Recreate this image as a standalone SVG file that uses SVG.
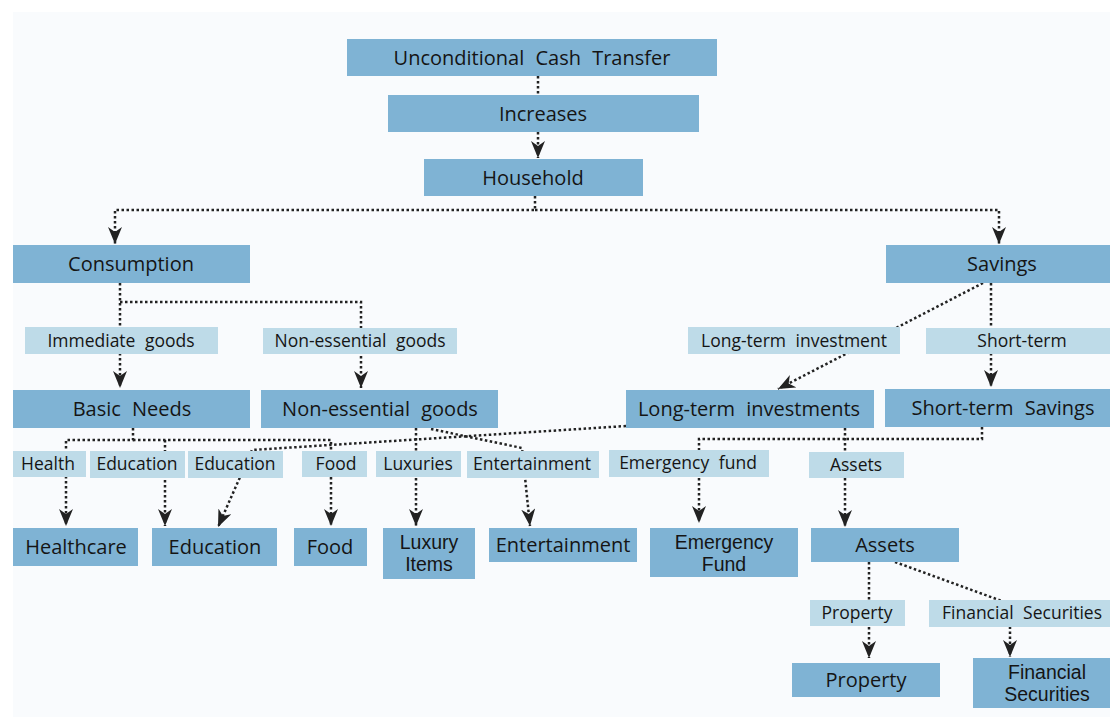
<svg xmlns="http://www.w3.org/2000/svg" width="1110" height="717" viewBox="0 0 1110 717">
<style>
.bg{fill:#f9fbfd}
.node rect{fill:#7fb3d4}
.lab rect{fill:#bedbe8}
.node text{font-family:"Open Sans","Noto Sans",sans-serif;font-size:20px;fill:#151515;text-anchor:middle;word-spacing:6px}
.node text.two{font-family:"Liberation Sans",Arial,sans-serif;font-size:19.5px}
.lab text{font-family:"Open Sans","Noto Sans",sans-serif;font-size:17.5px;fill:#151515;text-anchor:middle;word-spacing:5px}
.c path{fill:none;stroke:#222;stroke-width:2.5;stroke-dasharray:2.5 2.5}
.c path.a{marker-end:url(#ah)}
</style>
<defs>
<marker id="ah" markerUnits="userSpaceOnUse" markerWidth="18" markerHeight="15" refX="17" refY="7" orient="auto">
<path d="M0,0 L17,7 L0,14 L5,7 Z" fill="#222"/>
</marker>
</defs>
<rect class="bg" x="13" y="12" width="1097" height="705"/>
<g class="c" id="connectors">
<path d="M538,76 V95"/>
<path class="a" d="M538,132 V158"/>
<path class="a" d="M535,196 V210 H115 V244"/>
<path class="a" d="M535,210 H999 V244"/>
<path class="a" d="M120,283 V388"/>
<path class="a" d="M120,302 H361 V388"/>
<path class="a" d="M983,283 L778,389"/>
<path class="a" d="M991,283 V387"/>
<path class="a" d="M133,428 V440 H66 V526"/>
<path class="a" d="M165,440 V526"/>
<path class="a" d="M133,440 H331 V526"/>
<path class="a" d="M626,426 L252,450 L218,527"/>
<path class="a" d="M416,428 V526"/>
<path class="a" d="M431,429 L522,448 L530,526"/>
<path class="a" d="M845,428 V527"/>
<path class="a" d="M845,439 H699 V523"/>
<path d="M982,427 V439 H845"/>
<path class="a" d="M869,562 V658"/>
<path class="a" d="M895,562 L1010,604 V657"/>
</g>
<g class="lab" id="l-immediate"><rect x="25" y="327" width="193" height="27"/><text x="121" y="347">Immediate goods</text></g>
<g class="lab" id="l-nonessential"><rect x="263" y="328" width="194" height="26"/><text x="360" y="347">Non-essential goods</text></g>
<g class="lab" id="l-longterm"><rect x="688" y="327" width="212" height="27"/><text x="794" y="347">Long-term investment</text></g>
<g class="lab" id="l-shortterm"><rect x="926" y="328" width="184" height="26"/><text x="1022" y="347">Short-term</text></g>
<g class="lab" id="l-health"><rect x="13" y="451" width="73" height="26"/><text x="48" y="470">Health</text></g>
<g class="lab" id="l-education1"><rect x="90" y="451" width="95" height="27"/><text x="137" y="470">Education</text></g>
<g class="lab" id="l-education2"><rect x="188" y="451" width="95" height="27"/><text x="235" y="470">Education</text></g>
<g class="lab" id="l-food"><rect x="302" y="451" width="65" height="26"/><text x="336" y="470">Food</text></g>
<g class="lab" id="l-luxuries"><rect x="376" y="451" width="85" height="26"/><text x="418" y="470">Luxuries</text></g>
<g class="lab" id="l-entertainment"><rect x="467" y="451" width="132" height="27"/><text x="532" y="470">Entertainment</text></g>
<g class="lab" id="l-emergency"><rect x="609" y="450" width="160" height="27"/><text x="688" y="469">Emergency fund</text></g>
<g class="lab" id="l-assets"><rect x="809" y="452" width="95" height="26"/><text x="856" y="471">Assets</text></g>
<g class="lab" id="l-property"><rect x="810" y="600" width="95" height="26"/><text x="857" y="619">Property</text></g>
<g class="lab" id="l-financial"><rect x="929" y="600" width="181" height="27"/><text x="1022" y="619">Financial Securities</text></g>
<g class="node" id="n-uct"><rect x="347" y="39" width="370" height="37"/><text x="532" y="64.5">Unconditional Cash Transfer</text></g>
<g class="node" id="n-increases"><rect x="388" y="95" width="311" height="37"/><text x="543" y="120.5">Increases</text></g>
<g class="node" id="n-household"><rect x="424" y="159" width="219" height="37"/><text x="533" y="184.5">Household</text></g>
<g class="node" id="n-consumption"><rect x="13" y="245" width="237" height="38"/><text x="131" y="271">Consumption</text></g>
<g class="node" id="n-savings"><rect x="886" y="245" width="224" height="38"/><text x="1002" y="271">Savings</text></g>
<g class="node" id="n-basic"><rect x="13" y="390" width="237" height="38"/><text x="132" y="416">Basic Needs</text></g>
<g class="node" id="n-nonessential"><rect x="261" y="390" width="237" height="38"/><text x="380" y="416">Non-essential goods</text></g>
<g class="node" id="n-longterm"><rect x="626" y="390" width="248" height="38"/><text x="749" y="416">Long-term investments</text></g>
<g class="node" id="n-shortterm"><rect x="885" y="389" width="225" height="38"/><text x="1003" y="415">Short-term Savings</text></g>
<g class="node" id="n-healthcare"><rect x="13" y="528" width="125" height="38"/><text x="76" y="554">Healthcare</text></g>
<g class="node" id="n-education"><rect x="152" y="528" width="125" height="38"/><text x="215" y="554">Education</text></g>
<g class="node" id="n-food"><rect x="294" y="528" width="73" height="38"/><text x="330" y="554">Food</text></g>
<g class="node" id="n-luxury"><rect x="383" y="528" width="92" height="51"/><text class="two" x="429" y="549"><tspan x="429">Luxury</tspan><tspan x="429" dy="22">Items</tspan></text></g>
<g class="node" id="n-entertainment"><rect x="489" y="528" width="148" height="34"/><text x="563" y="552">Entertainment</text></g>
<g class="node" id="n-emergency"><rect x="650" y="528" width="148" height="49"/><text class="two" x="724" y="549"><tspan x="724">Emergency</tspan><tspan x="724" dy="22">Fund</tspan></text></g>
<g class="node" id="n-assets"><rect x="811" y="528" width="148" height="34"/><text x="885" y="552">Assets</text></g>
<g class="node" id="n-property"><rect x="792" y="663" width="148" height="34"/><text x="866" y="687">Property</text></g>
<g class="node" id="n-financial"><rect x="973" y="658" width="137" height="50"/><text class="two" x="1047" y="679"><tspan x="1047">Financial</tspan><tspan x="1047" dy="22">Securities</tspan></text></g>
</svg>
